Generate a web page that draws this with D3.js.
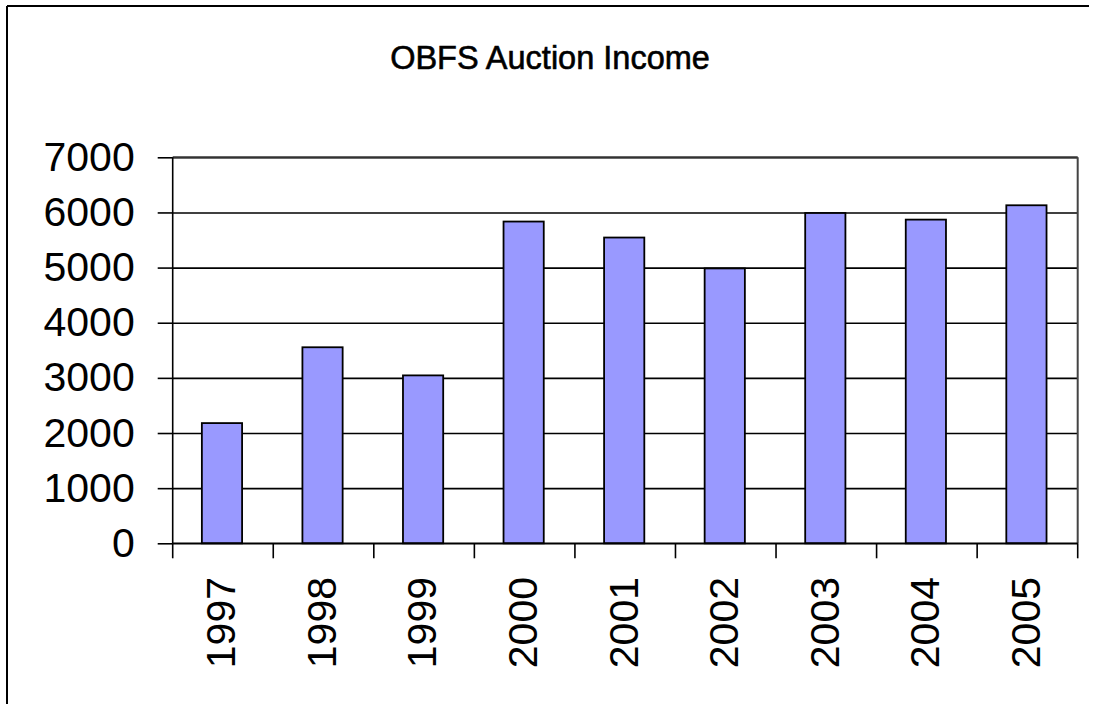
<!DOCTYPE html>
<html>
<head>
<meta charset="utf-8">
<script src="https://cdn.jsdelivr.net/npm/d3@7"></script>
<style>
  html, body { margin: 0; padding: 0; background: #fff; }
  svg { display: block; }
  text { font-family: "Liberation Sans", Arial, sans-serif; fill: #000; }
</style>
</head>
<body>
<svg id="chart" width="1099" height="704"></svg>
<script>
const title = "OBFS Auction Income";
const years = ["1997", "1998", "1999", "2000", "2001", "2002", "2003", "2004", "2005"];
const income = [2180, 3555, 3045, 5835, 5545, 4985, 5990, 5870, 6130];
const yTicks = [0, 1000, 2000, 3000, 4000, 5000, 6000, 7000];

const svg = d3.select("#chart");
const W = 1099, H = 704;
const plot = { left: 172.7, right: 1077.7, top: 157.3, bottom: 543.3 };

svg.append("rect").attr("width", W).attr("height", H).attr("fill", "#fff");

// outer frame (top and left edges visible)
svg.append("line").attr("x1", 7).attr("x2", 1089).attr("y1", 6).attr("y2", 6)
  .attr("stroke", "#000").attr("stroke-width", 2);
svg.append("line").attr("x1", 7).attr("x2", 7).attr("y1", 6).attr("y2", H)
  .attr("stroke", "#000").attr("stroke-width", 2);

// title
svg.append("text").attr("x", 550).attr("y", 69).attr("text-anchor", "middle")
  .attr("font-size", 32.5).attr("stroke", "#000").attr("stroke-width", 0.6).text(title);

const x = d3.scaleBand().domain(years).range([plot.left, plot.right]).padding(0);
const y = d3.scaleLinear().domain([0, 7000]).range([plot.bottom, plot.top]);

// gridlines
const yAxis = d3.axisLeft(y).tickValues(yTicks).tickSize(-(plot.right - plot.left)).tickFormat("");
const gy = svg.append("g").attr("transform", `translate(${plot.left},0)`).call(yAxis);
gy.select(".domain").remove();
gy.selectAll(".tick line").attr("stroke", "#000").attr("stroke-width", 1.6);
// outer ticks + labels
const yOuter = d3.axisLeft(y).tickValues(yTicks).tickSize(15).tickFormat(d => d).tickPadding(23);
const gy2 = svg.append("g").attr("transform", `translate(${plot.left},0)`).call(yOuter);
gy2.select(".domain").remove();
gy2.selectAll(".tick line").attr("stroke", "#000").attr("stroke-width", 1.6);
gy2.selectAll(".tick text").attr("font-size", 41).attr("font-family", "'Liberation Sans', Arial, sans-serif").attr("fill", "#000");

// bars
const bw = x.bandwidth() * 0.4;
svg.append("g").selectAll("rect").data(years).join("rect")
  .attr("x", d => x(d) + x.bandwidth() / 2 - bw / 2 - 1)
  .attr("y", (d, i) => y(income[i]))
  .attr("width", bw)
  .attr("height", (d, i) => y(0) - y(income[i]))
  .attr("fill", "#9999FF")
  .attr("stroke", "#000")
  .attr("stroke-width", 1.8);

// plot area border (top/right)
svg.append("line").attr("x1", plot.left).attr("x2", plot.right).attr("y1", plot.top).attr("y2", plot.top)
  .attr("stroke", "#333").attr("stroke-width", 2);
svg.append("line").attr("x1", plot.right).attr("x2", plot.right).attr("y1", plot.top).attr("y2", plot.bottom)
  .attr("stroke", "#444").attr("stroke-width", 2);

// y axis line
svg.append("line").attr("x1", plot.left).attr("x2", plot.left).attr("y1", plot.top).attr("y2", plot.bottom)
  .attr("stroke", "#000").attr("stroke-width", 1.6);

// x axis
const boundaries = years.map(d => x(d)).concat([plot.right]);
const gx = svg.append("g");
gx.append("line").attr("x1", plot.left).attr("x2", plot.right).attr("y1", plot.bottom).attr("y2", plot.bottom)
  .attr("stroke", "#000").attr("stroke-width", 1.6);
gx.selectAll("line.tk").data(boundaries).join("line").attr("class", "tk")
  .attr("x1", d => d).attr("x2", d => d).attr("y1", plot.bottom).attr("y2", plot.bottom + 15)
  .attr("stroke", "#000").attr("stroke-width", 1.6);
gx.selectAll("text").data(years).join("text")
  .attr("transform", d => `translate(${x(d) + x.bandwidth() / 2 - 2},${577}) rotate(-90)`)
  .attr("text-anchor", "end")
  .attr("dy", "0.35em")
  .attr("font-size", 41)
  .text(d => d);
</script>
</body>
</html>
